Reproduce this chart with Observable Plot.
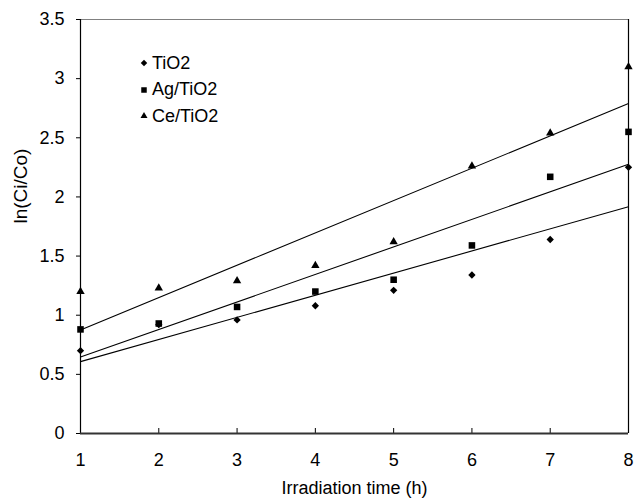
<!DOCTYPE html>
<html>
<head>
<meta charset="utf-8">
<script src="https://cdn.jsdelivr.net/npm/d3@7"></script>
<script src="https://cdn.jsdelivr.net/npm/@observablehq/plot@0.6"></script>
<style>
  html, body { margin: 0; padding: 0; background: #fff; }
  #wrap { position: relative; width: 634px; height: 501px; font-family: "Liberation Sans", Arial, sans-serif; }
  #legend { position: absolute; left: 137px; top: 50px; font-size: 18px; color: #000; }
  .row { display: flex; align-items: center; height: 26.5px; }
  .row svg { width: 14px; height: 14px; margin-right: 1px; }
</style>
</head>
<body>
<div id="wrap"></div>
<script>
const time = [1, 2, 3, 4, 5, 6, 7, 8];
const tio2 = [0.70, 0.92, 0.96, 1.08, 1.21, 1.34, 1.64, 2.25];
const agTio2 = [0.88, 0.93, 1.07, 1.20, 1.30, 1.59, 2.17, 2.55];
const ceTio2 = [1.20, 1.23, 1.29, 1.42, 1.62, 2.26, 2.54, 3.10];
const seriesNames = ["TiO2", "Ag/TiO2", "Ce/TiO2"];
const seriesSymbols = ["diamond2", "square", "triangle"];
const xTicks = [1, 2, 3, 4, 5, 6, 7, 8];
const yTicks = [0, 0.5, 1, 1.5, 2, 2.5, 3, 3.5];
const xLabel = "Irradiation time (h)";
const yLabel = "ln(Ci/Co)";

const seriesValues = [tio2, agTio2, ceTio2];
const data = seriesNames.flatMap((s, i) => time.map((t, j) => ({series: s, t, v: seriesValues[i][j]})));
const symbolOf = Object.fromEntries(seriesNames.map((s, i) => [s, seriesSymbols[i]]));
const sizeOf = {"diamond2": 3.3, "square": 3.7, "triangle": 3.1};

const chart = Plot.plot({
  width: 634,
  height: 501,
  marginLeft: 80,
  marginRight: 6,
  marginTop: 19,
  marginBottom: 68,
  style: {fontFamily: '"Liberation Sans", Arial, sans-serif', fontSize: "18px", color: "#000", background: "#fff"},
  x: {domain: [1, 8]},
  y: {domain: [0, 3.5]},
  marks: [
    Plot.ruleY([3.5], {stroke: "#808080", strokeWidth: 1}),
    Plot.ruleX([8], {stroke: "#000", strokeWidth: 1.2}),
    Plot.axisY({ticks: yTicks, tickSize: 4, tickPadding: 12, tickFormat: d => String(d), label: null, stroke: "#000"}),
    Plot.axisX({ticks: xTicks, tickSize: -5, tickFormat: () => "", label: null, stroke: "#000"}),
    Plot.axisX({ticks: xTicks, tickSize: 0, tickPadding: 20, tickFormat: d => String(d), label: null}),
    Plot.ruleX([1], {stroke: "#000", strokeWidth: 1.2}),
    Plot.ruleY([0], {stroke: "#333", strokeWidth: 2}),
    Plot.linearRegressionY(data, {x: "t", y: "v", z: "series", ci: 0, stroke: "#000", strokeWidth: 1.1}),
    ...seriesNames.map(s => Plot.dot(data.filter(d => d.series === s), {
      x: "t", y: "v", symbol: () => symbolOf[s], r: sizeOf[symbolOf[s]], fill: "#000", stroke: "none"
    })),
    Plot.text([xLabel], {frameAnchor: "bottom", dy: 55, lineAnchor: "middle", fontSize: 18}),
    Plot.text([yLabel], {frameAnchor: "left", dx: -60, dy: -3, rotate: -90, lineAnchor: "middle", fontSize: 19})
  ]
});
const wrap = document.getElementById("wrap");
wrap.appendChild(chart);

// in-plot legend
const legend = document.createElement("div");
legend.id = "legend";
const symPaths = {
  "diamond2": d3.symbol(d3.symbolDiamond2, Math.PI * 2.9 * 2.9)(),
  "square": d3.symbol(d3.symbolSquare, Math.PI * 3.1 * 3.1)(),
  "triangle": d3.symbol(d3.symbolTriangle, Math.PI * 2.6 * 2.6)()
};
seriesNames.forEach((s, i) => {
  const row = document.createElement("div");
  row.className = "row";
  row.innerHTML = `<svg viewBox="-7 -7 14 14"><path d="${symPaths[seriesSymbols[i]]}" fill="#000"/></svg><span>${s}</span>`;
  legend.appendChild(row);
});
wrap.appendChild(legend);
</script>
</body>
</html>
